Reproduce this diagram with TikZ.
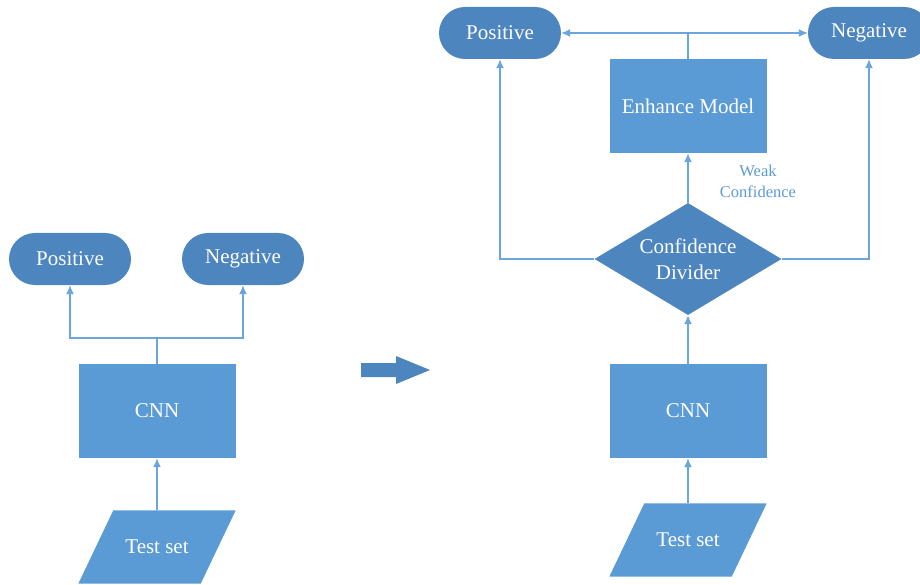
\documentclass[tikz,border=0pt]{standalone}
\usepackage{fontspec}
\setmainfont{Liberation Serif}
\usepackage{tikz}
\usetikzlibrary{arrows.meta,shapes.geometric}
\usetikzlibrary{backgrounds}
\definecolor{boxblue}{HTML}{5B9BD5}
\definecolor{darkblue}{HTML}{4D86BF}
\definecolor{lineblue}{HTML}{6AA5DB}
\tikzstyle{result}=[rectangle,
rounded corners=26pt,
minimum width=122pt,
minimum height=52pt,
fill=darkblue,
text=white]
\tikzstyle{model}=[rectangle,
minimum width=157pt,
minimum height=94pt,
fill=boxblue,
text=white]
\tikzstyle{dataset}=[rectangle,
minimum width=122pt,
minimum height=73pt,
text=white]
\tikzstyle{slanted}=[fill=boxblue]
\tikzstyle{divider}=[diamond,
aspect=1.67,
minimum width=187pt,
minimum height=112pt,
inner sep=0pt,
align=center,
fill=darkblue,
text=white]
\tikzstyle{link}=[draw=lineblue,
line width=1.3pt]

\begin{document}
\begin{tikzpicture}[x=1pt,y=-1pt,>={Latex[length=9pt,width=8pt]},
	font=\fontsize{21}{26}\selectfont]
	\useasboundingbox (0,0) rectangle (920,585);
	
	% Left: plain CNN
	\node (posL)  [result]  at (70,259)  {Positive};
	\node (negL)  [result]  at (243,259) {Negative};
	\node (cnnL)  [model]   at (157,411) {CNN};
	\node (testL) [dataset] at (157,547) {Test set};
	\coordinate (splitL) at (157,338);
	
	% Big arrow in the middle
	\fill[darkblue] (361,363) -- (396,363) -- (396,356) -- (430,370)
	-- (396,384) -- (396,377) -- (361,377) -- cycle;
	
	% Right: CNN with confidence divider
	\node (posR)  [result]  at (500,33)  {Positive};
	\node (negR)  [result]  at (869,33)  {Negative};
	\node (enh)   [model]   at (688,106) {Enhance Model};
	\node (div)   [divider] at (688,259) {Confidence\\Divider};
	\node (cnnR)  [model]   at (688,411) {CNN};
	\node (testR) [dataset] at (688,540) {Test set};
	\coordinate (splitR) at (688,33);
	\node (weak) [text=boxblue,align=center,
	font=\fontsize{16.5}{21}\selectfont] at (758,181) {Weak\\Confidence};
	
	% The test sets are parallelograms drawn behind their text
	\begin{pgfonlayer}{background}
	\foreach \t in {testL,testR} {
		\fill[slanted] ([xshift=-17.5pt]\t.south west)
		-- ([xshift=17.5pt]\t.north west)
		-- ([xshift=17.5pt]\t.north east)
		-- ([xshift=-17.5pt]\t.south east) -- cycle;
	}
	\end{pgfonlayer}
	
	% Connectors
	\draw[link,->] (testL) -- (cnnL);
	\draw[link] (cnnL) -- (splitL);
	\draw[link,->] (splitL) -| (posL.south);
	\draw[link,->] (splitL) -| (negL.south);
	
	\draw[link,->] (testR) -- (cnnR);
	\draw[link,->] (cnnR) -- (div.south);
	\draw[link,->] (div.north) -- (enh);
	\draw[link,->] (div.west) -| (posR.south);
	\draw[link,->] (div.east) -| (negR.south);
	\draw[link] (enh) -- (splitR);
	\draw[link,->] (splitR) -- (posR.east);
	\draw[link,->] (splitR) -- (negR.west);
\end{tikzpicture}
\end{document}
